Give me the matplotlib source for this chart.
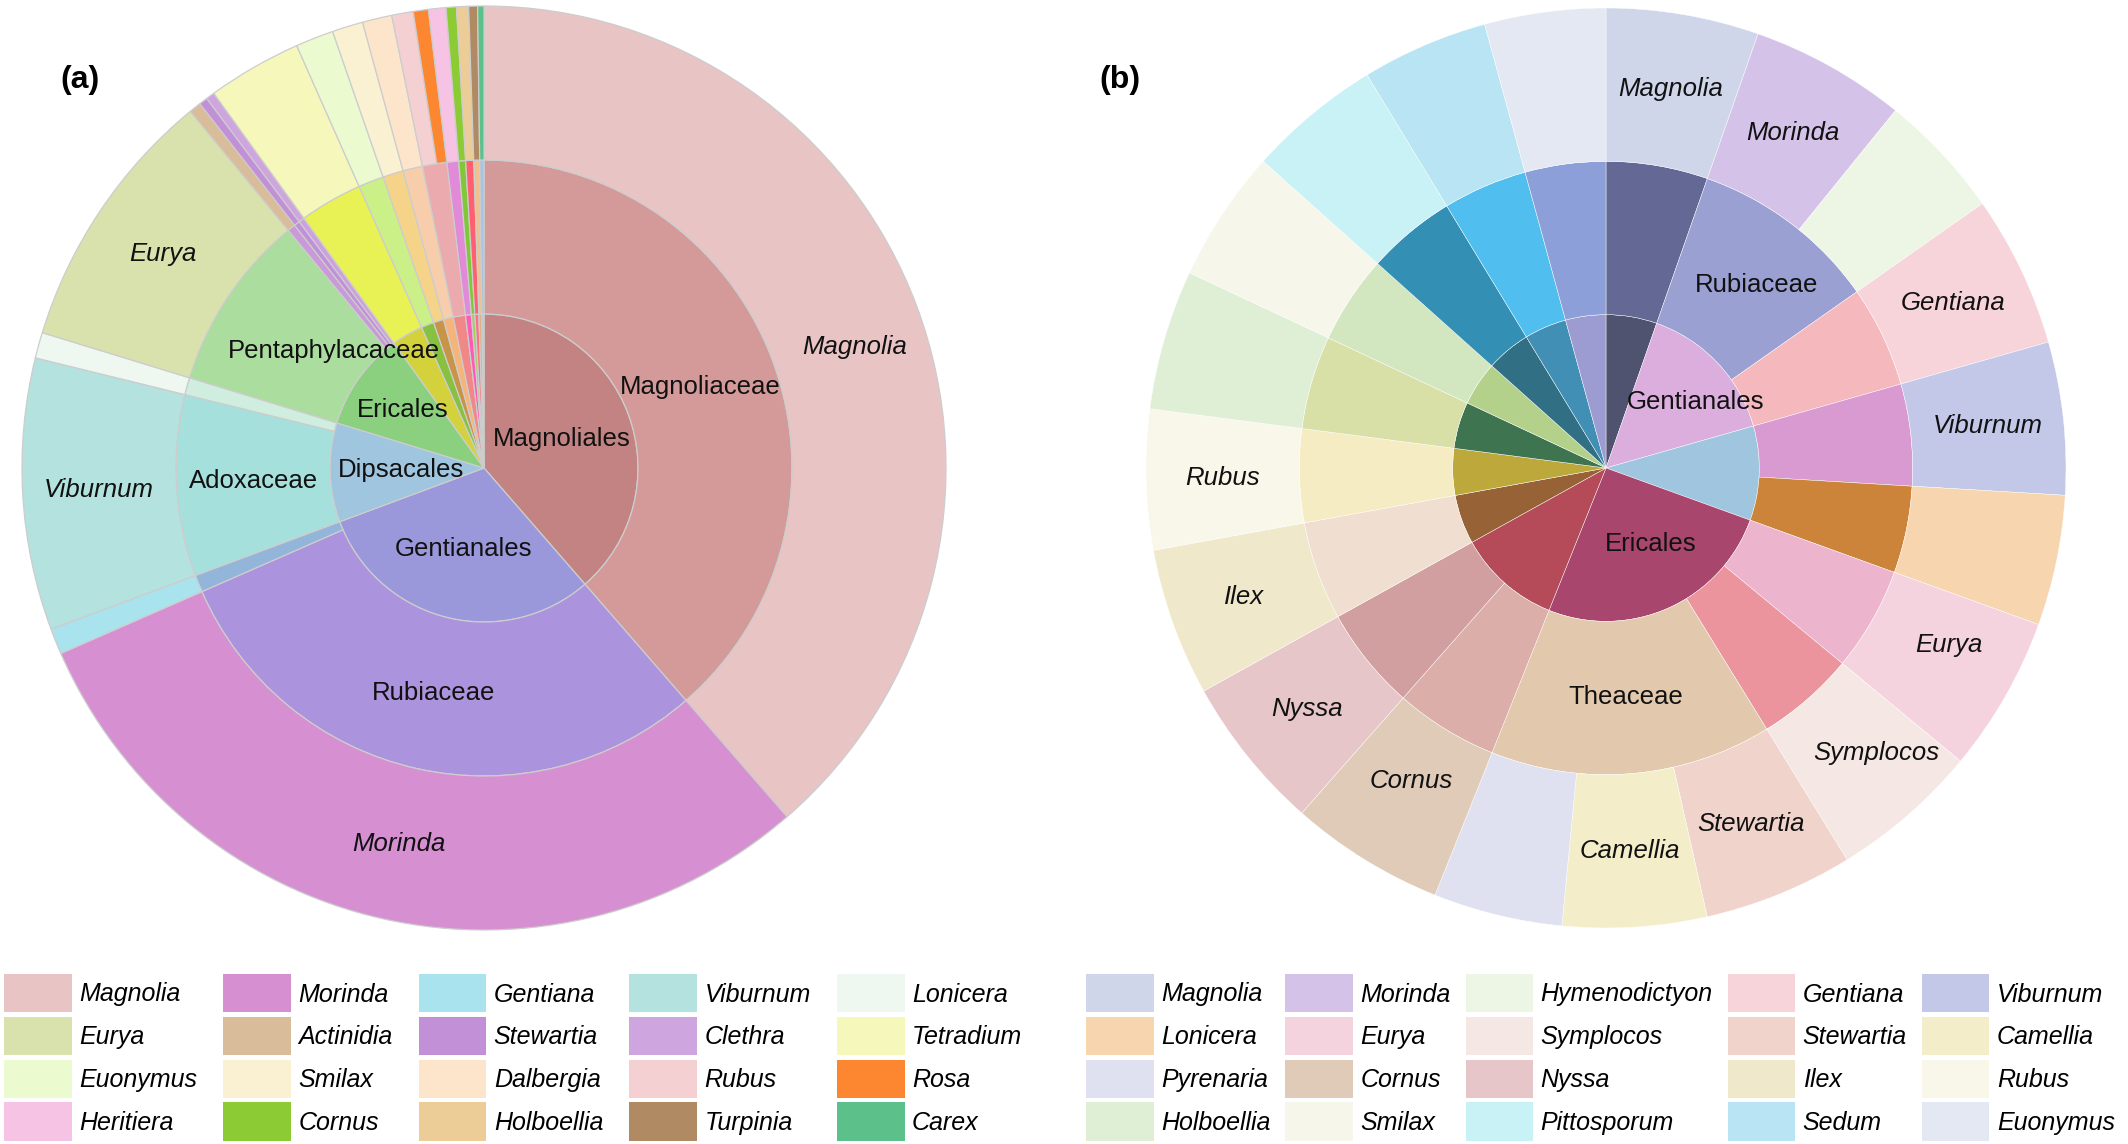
import matplotlib
matplotlib.use("Agg")
import matplotlib.pyplot as plt
from matplotlib.patches import Patch, Rectangle
from matplotlib.legend_handler import HandlerPatch
import numpy as np

plt.rcParams['font.family'] = ['Liberation Sans', 'DejaVu Sans']

# ---------------- Panel (a) data ----------------
a_genera = ["Magnolia", "Morinda", "Gentiana", "Viburnum", "Lonicera",
            "Eurya", "Actinidia", "Stewartia", "Clethra", "Tetradium",
            "Euonymus", "Smilax", "Dalbergia", "Rubus", "Rosa",
            "Heritiera", "Cornus", "Holboellia", "Turpinia", "Carex"]
a_values = [38.6, 29.8, 0.9, 9.5, 0.9,
            9.3, 0.42, 0.30, 0.30, 3.3,
            1.33, 1.08, 1.03, 0.75, 0.53,
            0.61, 0.36, 0.42, 0.31, 0.22]
a_families = ["Magnoliaceae", "Rubiaceae", "Gentianaceae", "Adoxaceae", "Caprifoliaceae",
              "Pentaphylacaceae", "Actinidiaceae", "Theaceae", "Clethraceae", "Rutaceae",
              "Celastraceae", "Smilacaceae", "Fabaceae", "Rosaceae", "Rosaceae",
              "Malvaceae", "Cornaceae", "Lardizabalaceae", "Staphyleaceae", "Cyperaceae"]
a_orders = ["Magnoliales", "Gentianales", "Gentianales", "Dipsacales", "Dipsacales",
            "Ericales", "Ericales", "Ericales", "Ericales", "Sapindales",
            "Celastrales", "Liliales", "Fabales", "Rosales", "Rosales",
            "Malvales", "Cornales", "Ranunculales", "Crossosomatales", "Poales"]
a_genus_colors = ["#e8c4c5", "#d690d2", "#a8e3ee", "#b4e2de", "#eef8f1",
                  "#d9e2ad", "#d9bc9a", "#c290d6", "#cfa5df", "#f5f7bb",
                  "#ecfad0", "#faf0d2", "#fde5cc", "#f4d0d2", "#fd8731",
                  "#f6c3e5", "#8ccb33", "#eccd98", "#b08a63", "#5bc08a"]
a_family_colors = {"Magnoliaceae": "#d49a9a", "Rubiaceae": "#ac93dd", "Gentianaceae": "#93b5da",
                   "Adoxaceae": "#a6e0dc", "Caprifoliaceae": "#cfeee0", "Pentaphylacaceae": "#aadd9e",
                   "Actinidiaceae": "#c89ad8", "Theaceae": "#c090d8", "Clethraceae": "#cda0e0",
                   "Rutaceae": "#e8f255", "Celastraceae": "#ccf088", "Smilacaceae": "#f5d48a",
                   "Fabaceae": "#f7cdab", "Rosaceae": "#eaaaae", "Malvaceae": "#e08ad8",
                   "Cornaceae": "#80c838", "Lardizabalaceae": "#ff6070", "Staphyleaceae": "#f0c090",
                   "Cyperaceae": "#a8c4e0"}
a_order_colors = {"Magnoliales": "#c48383", "Gentianales": "#9a98da", "Dipsacales": "#a0c5de",
                  "Ericales": "#8ad07e", "Sapindales": "#d4d23c", "Celastrales": "#88c040",
                  "Liliales": "#c89448", "Fabales": "#f5b47c", "Rosales": "#f08888",
                  "Malvales": "#ff5ab8", "Cornales": "#a0d060", "Ranunculales": "#ff7080",
                  "Crossosomatales": "#e0b080", "Poales": "#a8c8e8"}
a_labels = {"Magnoliales", "Gentianales", "Dipsacales", "Ericales",
            "Magnoliaceae", "Rubiaceae", "Adoxaceae", "Pentaphylacaceae",
            "Magnolia", "Morinda", "Viburnum", "Eurya"}

# ---------------- Panel (b) data ----------------
b_genera = ["Magnolia", "Morinda", "Hymenodictyon", "Gentiana", "Viburnum",
            "Lonicera", "Eurya", "Symplocos", "Stewartia", "Camellia",
            "Pyrenaria", "Cornus", "Nyssa", "Ilex", "Rubus",
            "Holboellia", "Smilax", "Pittosporum", "Sedum", "Euonymus"]
b_values = [5.36, 5.47, 4.42, 5.33, 5.36,
            4.58, 5.47, 5.22, 5.25, 5.06,
            4.53, 5.44, 5.44, 5.19, 4.92,
            4.92, 4.64, 4.69, 4.44, 4.25]
b_families = ["Magnoliaceae", "Rubiaceae", "Rubiaceae", "Gentianaceae", "Adoxaceae",
              "Caprifoliaceae", "Pentaphylacaceae", "Symplocaceae", "Theaceae", "Theaceae",
              "Theaceae", "Cornaceae", "Nyssaceae", "Aquifoliaceae", "Rosaceae",
              "Lardizabalaceae", "Smilacaceae", "Pittosporaceae", "Crassulaceae", "Celastraceae"]
b_orders = ["Magnoliales", "Gentianales", "Gentianales", "Gentianales", "Dipsacales",
            "Dipsacales", "Ericales", "Ericales", "Ericales", "Ericales",
            "Ericales", "Cornales", "Cornales", "Aquifoliales", "Rosales",
            "Ranunculales", "Liliales", "Apiales", "Saxifragales", "Celastrales"]
b_genus_colors = ["#cfd6ea", "#d5c2e8", "#edf5e5", "#f6d4da", "#c3c8e8",
                  "#f7d5ae", "#f5d3de", "#f5e8e4", "#f0d4cb", "#f3eec9",
                  "#dfe0f0", "#e0cbb8", "#e6c6c8", "#f0e8cb", "#f8f7ea",
                  "#dfefd6", "#f6f7ea", "#c8f2f5", "#b8e4f4", "#e4e8f2"]
b_family_colors = {"Magnoliaceae": "#636994", "Rubiaceae": "#9aa0d2", "Gentianaceae": "#f4b8bd",
                   "Adoxaceae": "#d89ad0", "Caprifoliaceae": "#cc843a", "Pentaphylacaceae": "#ecb4cd",
                   "Symplocaceae": "#ec949e", "Theaceae": "#e2c8ac", "Cornaceae": "#dcaeaa",
                   "Nyssaceae": "#d29fa0", "Aquifoliaceae": "#f0dfd0", "Rosaceae": "#f5ecc4",
                   "Lardizabalaceae": "#d8e0a8", "Smilacaceae": "#d2e6c0", "Pittosporaceae": "#3390b4",
                   "Crassulaceae": "#50bff0", "Celastraceae": "#8c9fd8"}
b_order_colors = {"Magnoliales": "#50536f", "Gentianales": "#dcaede", "Dipsacales": "#9fc6de",
                  "Ericales": "#a8466e", "Cornales": "#b54a58", "Aquifoliales": "#976235",
                  "Rosales": "#bda83c", "Ranunculales": "#3f7450", "Liliales": "#b4d18c",
                  "Apiales": "#306f84", "Saxifragales": "#418fb5", "Celastrales": "#9c9cd2"}
b_labels = {"Gentianales", "Ericales", "Rubiaceae", "Theaceae",
            "Magnolia", "Morinda", "Gentiana", "Viburnum", "Eurya", "Symplocos",
            "Stewartia", "Camellia", "Cornus", "Nyssa", "Ilex", "Rubus"}

# label nudges (axis units) for a few text labels
label_shift = {
    "a": {"Pentaphylacaceae": (0.09, -0.025), "Ericales": (-0.03, 0.02),
          "Magnolia": (0.02, -0.03)},
    "b": {"Gentianales": (0.064, 0.02), "Ericales": (0.023, 0.0),
          "Rubiaceae": (0.025, 0.0), "Symplocos": (0.04, 0.01), "Eurya": (0.02, 0.03),
          "Cornus": (0.015, 0.03)},
}


def aggregate(names, values):
    keys, sums = [], []
    for n, v in zip(names, values):
        if keys and keys[-1] == n:
            sums[-1] += v
        else:
            keys.append(n)
            sums.append(v)
    return keys, sums


def draw_sunburst(ax, panel, genera, values, fams, ords, gcol, fcol, ocol, labels, edge, lw):
    fam_names, fam_vals = aggregate(fams, values)
    ord_names, ord_vals = aggregate(ords, values)
    rings = [
        (ord_names, ord_vals, [ocol[n] for n in ord_names], 1/3, 0.18, False),
        (fam_names, fam_vals, [fcol[n] for n in fam_names], 2/3, 0.5, False),
        (genera, values, gcol, 1.0, 0.835, True),
    ]
    for names, vals, cols, radius, rlab, italic in rings:
        ax.pie(vals, radius=radius, colors=cols, startangle=90, counterclock=False,
               wedgeprops=dict(width=1/3, edgecolor=edge, linewidth=lw))
        total = float(np.sum(vals))
        cum = np.cumsum(vals) - np.array(vals) / 2.0
        for n, c in zip(names, cum):
            if n not in labels:
                continue
            th = np.deg2rad(360.0 * c / total)
            x, y = rlab * np.sin(th), rlab * np.cos(th)
            dx, dy = label_shift[panel].get(n, (0, 0))
            ax.text(x + dx, y + dy, n, ha='center', va='center', fontsize=18.5,
                    style='italic' if italic else 'normal', color='#111111')
    ax.set_xlim(-1, 1)
    ax.set_ylim(-1, 1)
    ax.set_aspect('equal')
    ax.axis('off')


fig = plt.figure(figsize=(21.28, 11.44), dpi=100)
W, H = 2128.0, 1144.0

axa = fig.add_axes([(484 - 462) / W, (H - 468 - 462) / H, 924 / W, 924 / H])
draw_sunburst(axa, "a", a_genera, a_values, a_families, a_orders,
              a_genus_colors, a_family_colors, a_order_colors, a_labels, "#cdcdcd", 0.9)

axb = fig.add_axes([(1606 - 460) / W, (H - 468 - 460) / H, 920 / W, 920 / H])
draw_sunburst(axb, "b", b_genera, b_values, b_families, b_orders,
              b_genus_colors, b_family_colors, b_order_colors, b_labels, "white", 0.3)

fig.text(80 / W, 1 - 80 / H, "(a)", fontsize=23, fontweight='bold', ha='center', va='center')
fig.text(1120 / W, 1 - 80 / H, "(b)", fontsize=23, fontweight='bold', ha='center', va='center')


def tall_rect(legend, orig_handle, xdescent, ydescent, width, height, fontsize):
    h = 27.5  # points (~38 px at 100 dpi)
    cy = -ydescent + height / 2.0
    return Rectangle((-xdescent, cy - h / 2.0), width, h)


def add_legend(genera, colors, x0, colspace):
    ncol, nrow = 5, 4
    order = [r * ncol + c for c in range(ncol) for r in range(nrow)]
    handles = [Patch(facecolor=colors[i], edgecolor='none') for i in order]
    labs = [genera[i] for i in order]
    leg = fig.legend(handles, labs, loc='upper left', bbox_to_anchor=(x0 / W, 1 - 978 / H),
                     ncol=ncol, frameon=False, borderpad=0, borderaxespad=0,
                     prop={'style': 'italic', 'size': 18}, handlelength=2.7,
                     handleheight=1.5, handletextpad=0.3, labelspacing=0.49,
                     columnspacing=colspace,
                     handler_map={Patch: HandlerPatch(patch_func=tall_rect)})
    return leg


add_legend(a_genera, a_genus_colors, 4, 1.05)
add_legend(b_genera, b_genus_colors, 1086, 0.6)

fig.savefig("out.png", dpi=100)
